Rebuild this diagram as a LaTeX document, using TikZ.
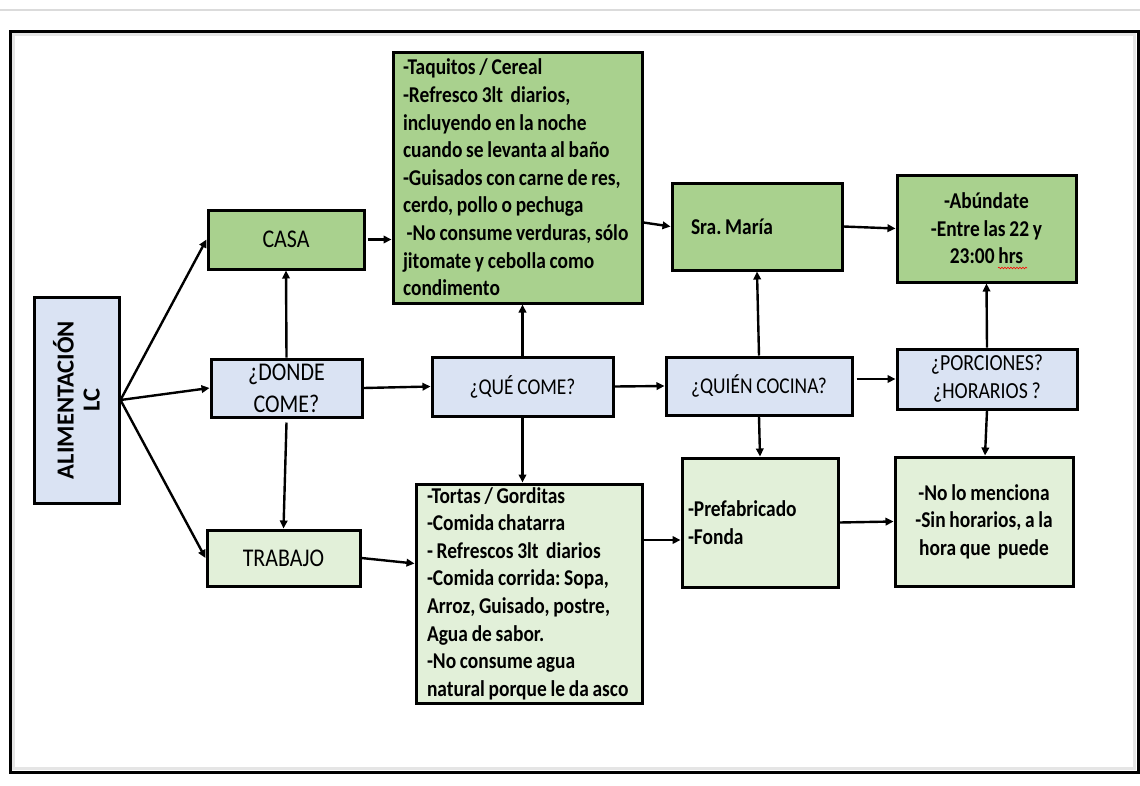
\documentclass[tikz,border=0pt]{standalone}
\usepackage{fontspec}
\setmainfont{Carlito}[FakeStretch=0.86,WordSpace=0.85]
\newfontfamily\widefont{Carlito}
\usetikzlibrary{arrows.meta,calc,decorations.pathmorphing}
\definecolor{darkgreen}{HTML}{A9D18E}
\definecolor{palegreen}{HTML}{E2F0D9}
\definecolor{paleblue}{HTML}{DAE3F3}
\begin{document}
\frenchspacing
\begin{tikzpicture}[x=1pt,y=-1pt,
  box/.style={draw=black,line width=3pt,rectangle,inner sep=0pt},
  qbox/.style={box,fill=paleblue,font=\fontsize{22.6}{31}\selectfont,align=flush center},
  darkbox/.style={box,fill=darkgreen},
  lightbox/.style={box,fill=palegreen},
  bigtxt/.style={font=\fontsize{25.5}{32}\selectfont},
  bodytxt/.style={font=\bfseries\fontsize{22.6}{27.6}\selectfont},
  link/.style={line width=2.4pt,-{Triangle[length=8pt,width=7.5pt]}}]
\useasboundingbox (0,0) rectangle (1140,785);
% page rule and frame
\draw[line width=1.5pt,black!14] (0,10) -- (1140,10);
\draw[line width=3pt,black!10] (13.5,34.5) rectangle (1134.5,768.5);
\draw[line width=3pt] (10,31) rectangle (1138,772);

% left column
\node[qbox,minimum width=85,minimum height=206] (alim) at (76.5,400) {};
\node[rotate=90,align=flush center,font=\widefont\bfseries\fontsize{24.5}{26}\selectfont] (alimtxt) at (alim.center) {ALIMENTACIÓN\\LC};

\node[darkbox,bigtxt,minimum width=156,minimum height=59] (casa) at (286,239.5) {CASA};
\node[qbox,bigtxt,minimum width=151,minimum height=58] (donde) at (286.5,388) {¿DONDE\\COME?};
\node[lightbox,bigtxt,minimum width=153,minimum height=56] (trabajo) at (283.5,558) {TRABAJO};

% second column
\node[darkbox,bodytxt,text width=239,minimum height=251,inner xsep=5pt,align=flush left] (casadet) at (517.5,177.5)
 {\hspace*{5pt}-Taquitos / Cereal\\
  \hspace*{5pt}-Refresco 3lt~ diarios,\\
  \hspace*{5pt}incluyendo en la noche\\
  \hspace*{5pt}cuando se levanta al baño\\
  \hspace*{5pt}-Guisados con carne de res,\\
  \hspace*{5pt}cerdo, pollo o pechuga\\
  \hspace*{5pt}~-No consume verduras, sólo\\
  \hspace*{5pt}jitomate y cebolla como\\
  \hspace*{5pt}condimento};
\node[qbox,minimum width=181,minimum height=59] (que) at (522.5,386.5) {¿QUÉ COME?};
\node[lightbox,bodytxt,text width=214,minimum height=219,inner xsep=6pt,align=flush left] (trabdet) at (529,593.5)
 {\hspace*{5pt}-Tortas / Gorditas\\
  \hspace*{5pt}-Comida chatarra\\
  \hspace*{5pt}- Refrescos 3lt~ diarios\\
  \hspace*{5pt}-Comida corrida: Sopa,\\
  \hspace*{5pt}Arroz, Guisado, postre,\\
  \hspace*{5pt}Agua de sabor.\\
  \hspace*{5pt}-No consume agua\\
  \hspace*{5pt}natural porque le da asco};

% third column
\node[darkbox,bodytxt,text width=132,minimum height=87,inner xsep=19pt,align=flush left] (maria) at (757,226.5) {Sra. María};
\node[qbox,minimum width=186,minimum height=58] (quien) at (759,386) {¿QUIÉN COCINA?};
\node[lightbox,bodytxt,text width=144,minimum height=129,inner xsep=6pt,align=flush left] (fuera) at (760,522.5) {-Prefabricado\\-Fonda};

% fourth column
\node[darkbox,bodytxt,minimum width=179,minimum height=107,align=flush center] (cantidad) at (986.5,228.5)
 {-Abúndate\\-Entre las 22 y\\23:00 hrs};
\node[qbox,minimum width=180,minimum height=60,font=\fontsize{23}{28}\selectfont] (porc) at (987,379) {¿PORCIONES?\\¿HORARIOS ?};
\node[lightbox,bodytxt,minimum width=178,minimum height=129,align=flush center] (horas) at (984,521.5)
 {-No lo menciona\\-Sin horarios, a la\\hora que~ puede};
\draw[red,line width=0.6pt,decorate,decoration={snake,amplitude=0.8pt,segment length=3pt}] (998,268) -- (1027,268);

% connector end points
\coordinate (trabin) at ($(trabdet.west)+(0,-30)$);
\coordinate (trabout) at ($(trabdet.east)+(0,-53.5)$);
\coordinate (casaout) at ($(casadet.east)+(0,45)$);

% connectors
\draw[link] (alim.east) -- (casa.west);
\draw[link] (alim.east) -- (donde.west);
\draw[link] (alim.east) -- (trabajo.west);
\draw[link] (donde.north) -- (casa.south);
\draw[link] ($(donde.south)+(0,4)$) -- (trabajo.north);
\draw[link] (donde.east) -- (que.west);
\draw[link] ($(casa.east)+(2,0)$) -- (casa.east -| casadet.west);
\draw[link] (que.north) -- (que.north |- casadet.south);
\draw[link] (que.south) -- (que.south |- trabdet.north);
\draw[link] (trabajo.east) -- (trabin);
\draw[link] (casaout) -- (maria.west);
\draw[link] (que.east) -- (quien.west);
\draw[link] (quien.north) -- (maria.south);
\draw[link] (quien.south) -- (fuera.north);
\draw[link] (maria.east) -- (cantidad.west);
\draw[link] ($(quien.east |- porc.west)+(3,0)$) -- (porc.west);
\draw[link] (porc.north) -- (cantidad.south);
\draw[link] (porc.south) -- ($(horas.north)+(1,0)$);
\draw[link] (trabout) -- (trabout -| fuera.west);
\draw[link] (fuera.east) -- (horas.west);
\end{tikzpicture}
\end{document}
